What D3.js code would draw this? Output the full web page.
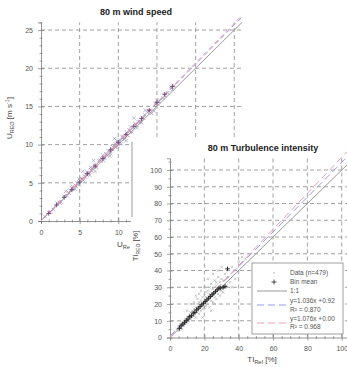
<!DOCTYPE html>
<html><head><meta charset="utf-8">
<script src="https://cdn.jsdelivr.net/npm/d3@7"></script>
<style>
body{margin:0;background:#fff;}
svg{display:block;font-family:"Liberation Sans",Arial,sans-serif;}
</style></head><body>
<svg id="c" width="347" height="367"></svg>
<script>
// ---------- data ----------
const wsTicks = [0,5,10,15,20,25];
const tiTicks = [0,20,40,60,80,100];
const tiYTicks = [0,10,20,30,40,50,60,70,80,90,100];
const wsData = [[0.5,0.6],[1.0,1.1],[1.6,1.5],[2.1,2.3],[2.6,2.5],[3.0,3.2],[3.4,3.3],[3.8,4.0],[4.1,4.5],[4.4,4.2],[4.7,5.0],[5.0,4.8],[5.2,5.6],[5.5,5.3],[5.8,6.1],[6.0,6.4],[6.3,6.0],[6.6,6.9],[6.9,7.3],[7.2,7.0],[7.5,7.9],[7.8,8.2],[8.1,7.9],[8.4,8.8],[8.7,9.2],[9.0,8.8],[9.3,9.7],[9.6,10.1],[9.9,9.8],[10.2,10.6],[10.5,11.0],[10.8,10.7],[11.1,11.6],[11.4,11.9],[11.8,11.6],[12.2,12.7],[12.6,13.0],[13.0,12.9],[13.4,13.9],[13.8,14.2],[14.3,14.1],[14.8,15.3],[15.3,15.6],[15.8,16.1],[16.4,16.8],[17.0,17.2],[6.8,7.9],[9.5,10.8],[5.4,6.5],[12.0,13.5],[3.2,3.9],[7.0,6.5],[11.0,10.5],[4.9,5.5],[6.4,7.0],[8.0,8.6],[9.8,10.5],[11.6,12.3],[13.5,14.5],[15.0,15.8],[16.8,17.6],[8.9,8.5],[10.4,10.1],[12.4,12.2],[14.6,14.4]];
const wsPink = [[1.2,1.2],[2.4,2.4],[3.6,3.7],[4.5,4.6],[5.3,5.5],[6.1,6.2],[7.0,7.2],[7.7,7.9],[8.5,8.7],[9.2,9.4],[10.0,10.2],[10.7,11.0],[11.5,11.8],[12.3,12.6],[13.2,13.5],[14.0,14.4],[15.0,15.4],[16.0,16.4],[17.2,17.7],[4.0,4.3],[5.7,5.8],[6.5,6.6],[8.2,8.3],[9.6,9.7],[11.2,11.2],[12.8,13.0]];
const wsBin = [[1,1.0],[2,2.1],[3,3.1],[4,4.1],[5,5.1],[6,6.2],[7,7.2],[8,8.2],[9,9.3],[10,10.3],[11,11.3],[12,12.4],[13,13.4],[14,14.5],[15,15.5],[16,16.6],[17,17.6]];
const wsFit1 = [1.025,0.05];
const wsFit2 = [1.035,0.0];
const tiData = [[4,5],[5,4],[5,7],[6,6],[6,8],[7,5],[7,9],[8,7],[8,10],[9,8],[9,11],[10,9],[10,12],[11,10],[11,13],[12,11],[12,15],[13,12],[13,16],[14,13],[14,17],[15,12],[15,18],[16,15],[16,20],[17,14],[17,21],[18,16],[18,22],[19,17],[19,24],[20,18],[20,25],[21,19],[21,27],[22,20],[22,28],[23,18],[23,30],[24,22],[24,32],[25,21],[25,29],[26,24],[26,34],[27,23],[27,31],[28,26],[28,36],[29,25],[30,28],[30,35],[31,27],[32,30],[32,38],[33,31],[34,36],[35,33],[36,42],[38,35],[40,45],[42,48],[44,47],[15,25],[18,28],[20,30],[22,35],[12,20],[25,38],[28,40],[30,42],[10,16],[24,16],[26,20],[19,12],[36,30],[14,21],[16,23],[21,24],[23,26],[17,26],[27,33],[29,33],[31,34],[33,36]];
const tiBin = [[5.5,5.5],[6.5,7],[7.5,8],[8.5,9],[9.5,10],[10.5,11],[11.5,12.5],[12.5,13],[13.5,14.5],[14.5,15],[15.5,16.5],[16.5,17.5],[17.5,18.5],[18.5,19.5],[19.5,20.5],[20.5,21.5],[21.5,22.5],[22.5,23.5],[23.5,24.5],[24.5,25.5],[25.5,26.5],[26.5,27.5],[27.5,28.5],[28.5,29.5],[29.5,29.5],[31,30],[32,30.5],[33.5,41]];
const tiFit1 = [1.036,0.92];
const tiFit2 = [1.076,0.00];
const legendLabels = ["Data (n=479)","Bin mean","1:1","y=1.036x +0.92","R\u00b2 = 0.870","y=1.076x +0.00","R\u00b2 = 0.968"];

// ---------- styles ----------
const gridCol = "#8a8a8a", axisCol = "#7a7a7a", txtCol = "#555";
const blue = "#9a9af2", pink = "#f0a0b4";
const svg = d3.select("#c");

function cross(g, x, y, s, col, w){
  g.append("line").attr("x1",x-s).attr("x2",x+s).attr("y1",y).attr("y2",y).attr("stroke",col).attr("stroke-width",w);
  g.append("line").attr("x1",x).attr("x2",x).attr("y1",y-s).attr("y2",y+s).attr("stroke",col).attr("stroke-width",w);
}
function xmark(g, x, y, s, col, w){
  g.append("line").attr("x1",x-s).attr("x2",x+s).attr("y1",y-s).attr("y2",y+s).attr("stroke",col).attr("stroke-width",w);
  g.append("line").attr("x1",x-s).attr("x2",x+s).attr("y1",y+s).attr("y2",y-s).attr("stroke",col).attr("stroke-width",w);
}

function panel(opt){
  const {x, y, xt, yt, xMinor, yMinor, xLabelMax} = opt;
  const g = svg.append("g");
  const [x0,x1] = x.range(), [y0,y1] = y.range();
  xt.filter(v=>v>0).forEach(v=>g.append("line").attr("x1",x(v)).attr("x2",x(v)).attr("y1",y0).attr("y2",y1)
    .attr("stroke",gridCol).attr("stroke-width",0.8).attr("stroke-dasharray","4,3"));
  yt.filter(v=>v>0).forEach(v=>g.append("line").attr("x1",x0).attr("x2",x1).attr("y1",y(v)).attr("y2",y(v))
    .attr("stroke",gridCol).attr("stroke-width",0.8).attr("stroke-dasharray","4,3"));
  const lm = xLabelMax === undefined ? Infinity : xLabelMax;
  const ax = g.append("g").attr("transform",`translate(0,${y0})`)
    .call(d3.axisBottom(x).tickValues(xt).tickSize(3).tickPadding(6).tickFormat(v => v <= lm ? String(v) : ""));
  ax.selectAll(".tick line").attr("y1",-3);
  const axm = g.append("g").attr("transform",`translate(0,${y0})`)
    .call(d3.axisBottom(x).tickValues(xMinor).tickSize(1.5).tickFormat(""));
  axm.selectAll(".tick line").attr("y1",-1.5);
  axm.select(".domain").remove();
  const ay = g.append("g").attr("transform",`translate(${x0},0)`)
    .call(d3.axisLeft(y).tickValues(yt).tickSize(3).tickPadding(5));
  ay.selectAll(".tick line").attr("x1",3);
  const aym = g.append("g").attr("transform",`translate(${x0},0)`)
    .call(d3.axisLeft(y).tickValues(yMinor).tickSize(1.5).tickFormat(""));
  aym.selectAll(".tick line").attr("x1",1.5);
  aym.select(".domain").remove();
  g.selectAll(".domain").attr("stroke",axisCol).attr("stroke-width",0.8);
  g.selectAll(".tick line").attr("stroke",axisCol).attr("stroke-width",0.7);
  g.selectAll(".tick text").attr("fill",txtCol).style("font-size","7px").style("font-family","'Liberation Sans',Arial,sans-serif");
  return g;
}

function fitLine(g, x, y, a, b, col, dash){
  const [d0,d1] = x.domain();
  g.append("line").attr("x1",x(d0)).attr("y1",y(a*d0+b)).attr("x2",x(d1)).attr("y2",y(a*d1+b))
    .attr("stroke",col).attr("stroke-width",1).attr("stroke-dasharray",dash||null);
}

// ---------- top panel: wind speed ----------
const xWs = d3.scaleLinear().domain([0,26]).range([41,242]);
const yWs = d3.scaleLinear().domain([0,26]).range([221,22.4]);
const gW = panel({x:xWs, y:yWs, xt:wsTicks, yt:wsTicks, xLabelMax:10,
  xMinor:d3.range(0,27,1).filter(v=>v%5), yMinor:d3.range(0,27,1).filter(v=>v%5)});
fitLine(gW, xWs, yWs, 1, 0, "#999", null);
fitLine(gW, xWs, yWs, wsFit1[0], wsFit1[1], blue, "5,3");
fitLine(gW, xWs, yWs, wsFit2[0], wsFit2[1], pink, "5,3");
wsData.forEach(d=>xmark(gW, xWs(d[0]), yWs(d[1]), 1.8, "#9aa0c0", 0.7));
wsPink.forEach(d=>xmark(gW, xWs(d[0]), yWs(d[1]), 2, "#d27a9a", 0.8));
wsBin.forEach(d=>cross(gW, xWs(d[0]), yWs(d[1]), 2.3, "#6a4a7a", 0.9));
svg.append("text").attr("x",136).attr("y",15).attr("text-anchor","middle")
  .style("font-size","9px").style("font-weight","bold").attr("fill","#222").text("80 m wind speed");
const yl = svg.append("text").attr("transform","translate(12,118) rotate(-90)").attr("text-anchor","middle")
  .style("font-size","8px").attr("fill","#444");
yl.append("tspan").text("U");
yl.append("tspan").attr("dy",2).style("font-size","5.5px").text("REO");
yl.append("tspan").attr("dy",-2).text(" [m s");
yl.append("tspan").attr("dy",-3).style("font-size","5.5px").text("-1");
yl.append("tspan").attr("dy",3).text("]");
const xl = svg.append("text").attr("x",117).attr("y",247).style("font-size","8px").attr("fill","#444");
xl.append("tspan").text("U");
xl.append("tspan").attr("dy",2).style("font-size","5.5px").text("Re");

// ---------- overlay panel background ----------
svg.append("rect").attr("x",131).attr("y",138).attr("width",216).attr("height",229).attr("fill","#fff");
svg.append("line").attr("x1",132).attr("x2",132).attr("y1",142).attr("y2",217).attr("stroke","#aaa").attr("stroke-width",1.2);

// ---------- bottom panel: turbulence intensity ----------
const xTi = d3.scaleLinear().domain([0,104]).range([170,348.6]);
const yTi = d3.scaleLinear().domain([0,107]).range([337.5,158.3]);
const gT = panel({x:xTi, y:yTi, xt:tiTicks, yt:tiYTicks,
  xMinor:d3.range(0,105,5).filter(v=>v%20), yMinor:d3.range(5,106,10)});
tiData.forEach(d=>xmark(gT, xTi(d[0]), yTi(d[1]), 1.2, "#a8a8a8", 0.6));
fitLine(gT, xTi, yTi, 1, 0, "#999", null);
fitLine(gT, xTi, yTi, tiFit1[0], tiFit1[1], blue, "7,4");
fitLine(gT, xTi, yTi, tiFit2[0], tiFit2[1], pink, "7,4");
tiBin.forEach(d=>cross(gT, xTi(d[0]), yTi(d[1]), 2.3, "#2a2a2a", 1));
svg.append("text").attr("x",263).attr("y",151).attr("text-anchor","middle")
  .style("font-size","9px").style("font-weight","bold").attr("fill","#222").text("80 m Turbulence intensity");
const yl2 = svg.append("text").attr("transform","translate(138,246) rotate(-90)").attr("text-anchor","middle")
  .style("font-size","7.5px").attr("fill","#444");
yl2.append("tspan").text("TI");
yl2.append("tspan").attr("dy",2).style("font-size","5px").text("REO");
yl2.append("tspan").attr("dy",-2).text(" [%]");
const xl2 = svg.append("text").attr("x",262).attr("y",362).attr("text-anchor","middle").style("font-size","8px").attr("fill","#444");
xl2.append("tspan").text("TI");
xl2.append("tspan").attr("dy",2).style("font-size","5.5px").text("Ref");
xl2.append("tspan").attr("dy",-2).text(" [%]");

// ---------- legend ----------
const lg = svg.append("g");
lg.append("rect").attr("x",252).attr("y",263).attr("width",91).attr("height",71)
  .attr("fill","#fff").attr("stroke","#888").attr("stroke-width",0.8);
const ly = [273,282,291,301,309.5,318.5,327];
legendLabels.forEach((t,i)=>{
  lg.append("text").attr("x",290).attr("y",ly[i]+2.3).style("font-size","6.5px").attr("fill","#555").text(t);
});
lg.append("circle").attr("cx",274).attr("cy",ly[0]).attr("r",0.8).attr("fill","#aaa");
cross(lg, 274, ly[1], 2.5, "#333", 0.9);
lg.append("line").attr("x1",257).attr("x2",287).attr("y1",ly[2]).attr("y2",ly[2]).attr("stroke","#999").attr("stroke-width",1);
lg.append("line").attr("x1",257).attr("x2",287).attr("y1",305).attr("y2",305).attr("stroke",blue).attr("stroke-width",1).attr("stroke-dasharray","7,4");
lg.append("line").attr("x1",257).attr("x2",287).attr("y1",323).attr("y2",323).attr("stroke",pink).attr("stroke-width",1).attr("stroke-dasharray","7,4");
</script></body></html>
